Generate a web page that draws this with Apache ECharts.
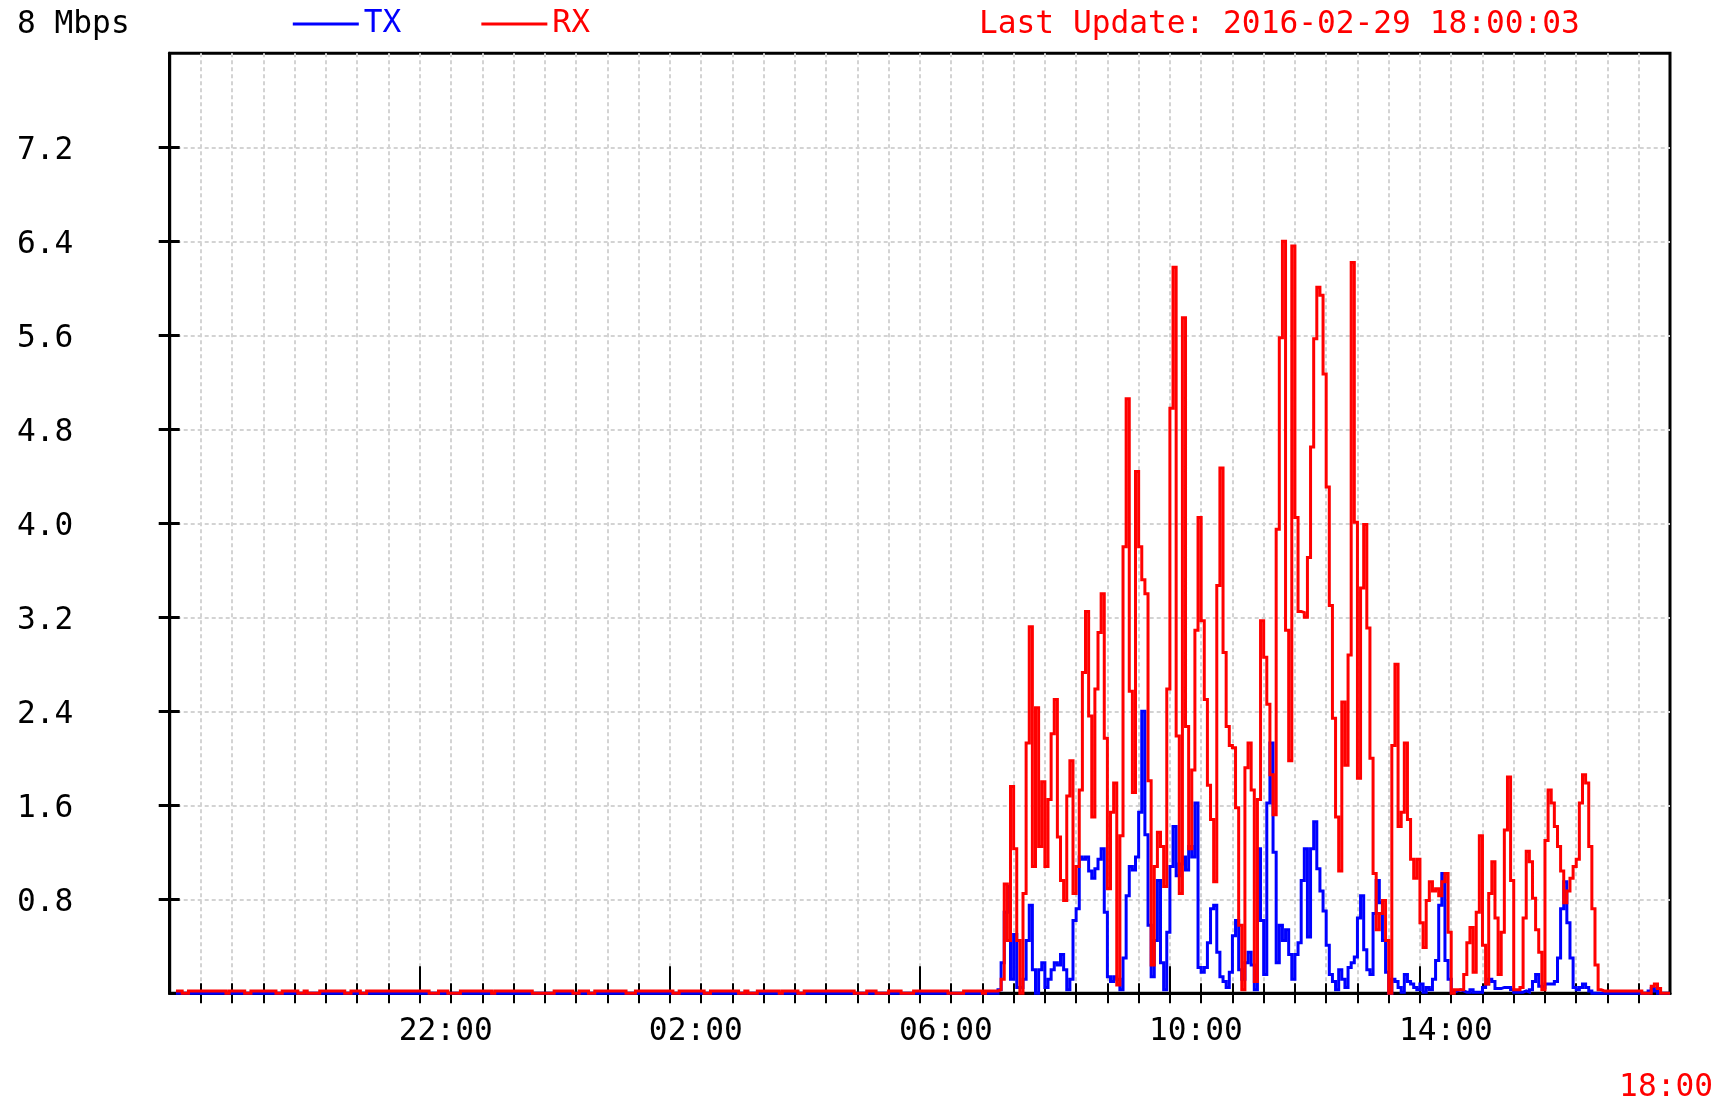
<!DOCTYPE html>
<html>
<head>
<meta charset="utf-8">
<title>Bandwidth</title>
<script src="https://cdn.jsdelivr.net/npm/echarts@6/dist/echarts.min.js"></script>
<style>
  html, body { margin: 0; padding: 0; background: #ffffff; }
  #chart { width: 1718px; height: 1102px; }
</style>
</head>
<body>
<div id="chart"></div>
<script>
// Samples are 3 minutes apart, starting at 18:00 and covering 24 hours (480 samples).
const SAMPLE_MINUTES = 3;
const SPAN_MINUTES = 1440;

// Hour labels under the time axis (minutes after 18:00)
const hourTickMinutes = [240, 480, 720, 960, 1200];
const hourLabels = ['22:00', '02:00', '06:00', '10:00', '14:00'];
const endLabel = '18:00';

// Rate axis (Mbps)
const rateMax = 8;
const rateStep = 0.8;
const rateTicks = [0.8, 1.6, 2.4, 3.2, 4.0, 4.8, 5.6, 6.4, 7.2];

const titleUnit = '8 Mbps';
const lastUpdate = 'Last Update: 2016-02-29 18:00:03';

// Transmit rate, Mbps, one row per hour (20 samples)
const tx = [
  null,null,0,0,0,0,0,0,0,0,0,0,0,0,0,0,0,0,0,0,
  0,0,0,0,0,0,0,0,0,0,0,0,0,0,0,0,0,0,0,0,
  0,0,0,0,0,0,0,0,0,0,0,0,0,0,0,0,0,0,0,0,
  0,0,0,0,0,0,0,0,0,0,0,0,0,0,0,0,0,0,0,0,
  0,0,0,0,0,0,0,0,0,0,0,0,0,0,0,0,0,0,0,0,
  0,0,0,0,0,0,0,0,0,0,0,0,0,0,0,0,0,0,0,0,
  0,0,0,0,0,0,0,0,0,0,0,0,0,0,0,0,0,0,0,0,
  0,0,0,0,0,0,0,0,0,0,0,0,0,0,0,0,0,0,0,0,
  0,0,0,0,0,0,0,0,0,0,0,0,0,0,0,0,0,0,0,0,
  0,0,0,0,0,0,0,0,0,0,0,0,0,0,0,0,0,0,0,0,
  0,0,0,0,0,0,0,0,0,0,0,0,0,0,0,0,0,0,0,0,
  0,0,0,0,0,0,0,0,0,0,0,0,0,0,0,0,0,0,0,0,
  0,0,0,0,0,0,0,0,0,0,0,0,0,0,0,0,0,0,0,0,
  0,0,0,0,0,0.03,0.26,0.69,0.91,0.12,0.50,0.05,0.05,0.12,0.45,0.75,0.20,0.00,0.20,0.26,
  0.05,0.12,0.20,0.26,0.24,0.33,0.20,0.03,0.12,0.62,0.72,1.16,1.14,1.16,1.04,0.98,1.06,1.14,1.23,0.69,
  0.14,0.10,0.14,0.12,0.03,0.30,0.83,1.08,1.05,1.16,1.54,2.40,1.35,0.58,0.14,0.45,0.96,0.26,0.03,0.52,
  1.08,1.42,1.00,1.10,1.16,1.05,1.25,1.16,1.62,0.22,0.18,0.22,0.43,0.72,0.75,0.35,0.14,0.10,0.05,0.18,
  0.49,0.62,0.20,0.12,0.26,0.35,0.24,0.03,1.23,0.62,0.16,1.62,2.13,1.20,0.26,0.58,0.45,0.54,0.33,0.12,
  0.33,0.43,0.96,1.23,0.48,1.23,1.46,1.06,0.87,0.70,0.41,0.16,0.10,0.03,0.20,0.12,0.05,0.22,0.26,0.31,
  0.64,0.83,0.37,0.20,0.16,0.68,0.96,0.77,0.45,0.18,0.00,0.12,0.10,0.05,0.01,0.16,0.10,0.08,0.05,0.03,
  0.08,0.01,0.05,0.03,0.12,0.28,0.75,1.02,0.28,0.12,0.01,0.02,0.03,0.02,0.01,0.01,0.03,0.01,0.01,0.01,
  0.05,0.08,0.12,0.10,0.04,0.04,0.05,0.05,0.05,0.03,0.01,0.01,0.01,0.02,0.01,0.03,0.10,0.16,0.06,0.05,
  0.08,0.08,0.08,0.10,0.30,0.72,0.95,0.60,0.30,0.05,0.03,0.05,0.08,0.05,0.02,0,0,0,0,0,
  0,0,0,0,0,0,0,0,0,0,0,0,0,0.02,0.04,0.02,0,0,0,0
];

// Receive rate, Mbps, one row per hour (20 samples)
const rx = [
  null,null,0.02,0.02,0,0,0.02,0.02,0.02,0.02,0.02,0.02,0.02,0.02,0.02,0.02,0.02,0.02,0,0.02,
  0.02,0.02,0.02,0.02,0,0,0.02,0.02,0.02,0.02,0.02,0.02,0.02,0.02,0,0,0.02,0.02,0.02,0.02,
  0.02,0,0,0.02,0,0,0,0,0.02,0.02,0.02,0.02,0.02,0.02,0.02,0.02,0,0,0.02,0.02,
  0.02,0,0,0.02,0.02,0.02,0.02,0.02,0.02,0.02,0.02,0.02,0.02,0.02,0.02,0.02,0.02,0.02,0.02,0.02,
  0.02,0.02,0.02,0,0,0,0.02,0.02,0.02,0,0,0,0,0.02,0.02,0.02,0.02,0.02,0.02,0.02,
  0.02,0.02,0.02,0,0.02,0.02,0.02,0.02,0.02,0.02,0.02,0.02,0.02,0.02,0.02,0.02,0,0,0,0,
  0,0,0,0.02,0.02,0.02,0.02,0.02,0.02,0,0,0.02,0.02,0.02,0,0,0.02,0.02,0.02,0.02,
  0.02,0.02,0.02,0.02,0.02,0.02,0,0,0,0.02,0.02,0.02,0.02,0.02,0.02,0.02,0.02,0.02,0.02,0.02,
  0.02,0,0,0.02,0.02,0.02,0.02,0.02,0.02,0.02,0.02,0,0,0.02,0.02,0.02,0.02,0.02,0.02,0.02,
  0.02,0.02,0,0,0.02,0,0,0,0.02,0.02,0.02,0.02,0.02,0.02,0.02,0,0.02,0.02,0.02,0.02,
  0.02,0,0,0.02,0.02,0.02,0.02,0.02,0.02,0.02,0.02,0.02,0.02,0.02,0.02,0.02,0.02,0.02,0.02,0,
  0,0,0,0.02,0.02,0.02,0,0,0,0,0.02,0.02,0.02,0.02,0,0,0,0,0.02,0.02,
  0.02,0.02,0.02,0.02,0.02,0.02,0.02,0.02,0.02,0,0,0,0,0,0.02,0.02,0.02,0.02,0.02,0.02,
  0,0.02,0.02,0.02,0.02,0.03,0.12,0.93,0.45,1.76,1.23,0.45,0,0.85,2.13,3.12,1.08,2.43,1.25,1.80,
  1.08,1.65,2.21,2.50,1.33,0.96,0.79,1.68,1.98,0.85,1.08,1.73,2.73,3.25,2.36,1.50,2.59,3.07,3.40,2.17,
  0.89,1.54,1.79,0.07,1.34,3.80,5.06,2.57,1.71,4.44,3.80,3.52,3.40,1.81,0.24,1.08,1.37,1.25,0.91,2.59,
  4.98,6.18,2.19,0.85,5.75,2.27,1.23,1.90,3.09,4.05,3.17,2.50,1.77,1.48,0.95,3.47,4.47,2.90,2.27,2.11,
  2.09,1.58,0.58,0.03,1.92,2.13,1.73,0.10,1.65,3.17,2.86,2.46,1.86,1.52,3.95,5.58,6.40,3.09,1.98,6.36,
  4.05,3.25,3.24,3.20,3.71,4.65,5.57,6.01,5.94,5.27,4.31,3.30,2.34,1.50,1.04,2.48,1.94,2.88,6.22,4.01,
  1.83,3.45,3.99,3.11,2.00,1.02,0.54,0.68,0.79,0.45,0.00,2.11,2.80,1.42,1.54,2.13,1.48,1.14,0.98,1.14,
  0.60,0.39,0.79,0.95,0.87,0.89,0.83,0.95,1.02,0.52,0.00,0.03,0.03,0.03,0.16,0.43,0.56,0.18,0.69,1.34,
  0.41,0.08,0.85,1.12,0.64,0.16,0.52,1.39,1.84,0.96,0.03,0.03,0.05,0.64,1.21,1.12,0.81,0.54,0.35,0.03,
  1.30,1.73,1.62,1.42,1.25,1.04,0.77,0.87,0.98,1.08,1.14,1.62,1.86,1.79,1.25,0.72,0.24,0.03,0.02,0.02,
  0.02,0.02,0.02,0.02,0.02,0.02,0.02,0.02,0.02,0.02,0.02,0,0,0,0.06,0.08,0.04,0,0,0
];

const FONT_FAMILY = '"DejaVu Sans Mono", "Liberation Mono", monospace';
const FONT_SIZE = 31.2;
const GRID_COLOR = '#d3d3d3';
const TX_COLOR = '#0000ff';
const RX_COLOR = '#ff0000';

// Step data: each sample holds its value until the next sample starts.
function toStepData(values) {
  const out = values.map((v, i) => [i * SAMPLE_MINUTES, v]);
  out.push([SPAN_MINUTES, values[values.length - 1]]);
  return out;
}

const halfHourTicks = [];
for (let m = 30; m < SPAN_MINUTES; m += 30) halfHourTicks.push(m);

function hourLabel(value) {
  const idx = hourTickMinutes.indexOf(Math.round(value));
  return idx >= 0 ? '{t|' + hourLabels[idx] + '}' : '';
}

const chart = echarts.init(document.getElementById('chart'), null, { renderer: 'canvas' });

const GRID = { left: 169.7, top: 53.3, width: 1500.3, height: 940 };

const hiddenLine = { show: false };
const noLabel = { show: false };

chart.setOption({
  animation: false,
  backgroundColor: '#ffffff',
  textStyle: { fontFamily: FONT_FAMILY },
  grid: {
    left: GRID.left, top: GRID.top, width: GRID.width, height: GRID.height,
    show: true, borderColor: '#000000', borderWidth: 3, backgroundColor: 'transparent'
  },
  legend: {
    left: 292.8, top: 8.5, padding: 0,
    itemWidth: 66, itemHeight: 3, itemGap: 80,
    icon: 'rect', selectedMode: false,
    textStyle: { fontFamily: FONT_FAMILY, fontSize: FONT_SIZE },
    data: [
      { name: 'TX', textStyle: { color: TX_COLOR } },
      { name: 'RX', textStyle: { color: RX_COLOR } }
    ]
  },
  xAxis: [
    {
      type: 'value', min: 0, max: SPAN_MINUTES, interval: 30, position: 'bottom',
      axisLine: { show: true, onZero: false, lineStyle: { color: '#000000', width: 3 } },
      axisTick: { show: true, inside: false, length: 10, customValues: halfHourTicks,
                  lineStyle: { color: '#000000', width: 2 } },
      axisLabel: {
        show: true, customValues: hourTickMinutes, formatter: hourLabel,
        align: 'center', verticalAlign: 'middle', margin: 39,
        rich: { t: { fontFamily: FONT_FAMILY, fontSize: FONT_SIZE, color: '#000000',
                     padding: [0, 0, 0, 52] } }
      },
      splitLine: { show: true, lineStyle: { color: GRID_COLOR, width: 2, type: [4, 3] } }
    },
    {
      type: 'value', min: 0, max: SPAN_MINUTES, position: 'bottom',
      axisLine: hiddenLine,
      axisTick: { show: true, inside: true, length: 10, customValues: halfHourTicks,
                  lineStyle: { color: '#000000', width: 2 } },
      axisLabel: noLabel, splitLine: { show: false }
    },
    {
      type: 'value', min: 0, max: SPAN_MINUTES, position: 'bottom',
      axisLine: hiddenLine,
      axisTick: { show: true, inside: true, length: 27, customValues: hourTickMinutes,
                  lineStyle: { color: '#000000', width: 2 } },
      axisLabel: noLabel, splitLine: { show: false }
    }
  ],
  yAxis: [
    {
      type: 'value', min: 0, max: rateMax, interval: rateStep, position: 'left',
      axisLine: { show: true, onZero: false, lineStyle: { color: '#000000', width: 3 } },
      axisTick: { show: true, inside: false, length: 11, customValues: rateTicks,
                  lineStyle: { color: '#000000', width: 3 } },
      axisLabel: {
        show: true, customValues: rateTicks, formatter: v => '{r|' + v.toFixed(1) + '}',
        align: 'left', verticalAlign: 'middle', margin: 152.7,
        rich: { r: { fontFamily: FONT_FAMILY, fontSize: FONT_SIZE, color: '#000000',
                     padding: [7, 0, 0, 0] } }
      },
      splitLine: { show: true, lineStyle: { color: GRID_COLOR, width: 2, type: [4, 3] } }
    },
    {
      type: 'value', min: 0, max: rateMax, position: 'left',
      axisLine: hiddenLine,
      axisTick: { show: true, inside: true, length: 10, customValues: rateTicks,
                  lineStyle: { color: '#000000', width: 3 } },
      axisLabel: noLabel, splitLine: { show: false }
    }
  ],
  graphic: [
    { type: 'text', x: 17, y: 25, silent: true,
      style: { text: titleUnit, fill: '#000000', font: FONT_SIZE + 'px ' + FONT_FAMILY,
               align: 'left', verticalAlign: 'middle' } },
    { type: 'text', x: 979, y: 25, silent: true,
      style: { text: lastUpdate, fill: RX_COLOR, font: FONT_SIZE + 'px ' + FONT_FAMILY,
               align: 'left', verticalAlign: 'middle' } },
    { type: 'text', x: 1713, y: 1088, silent: true,
      style: { text: endLabel, fill: RX_COLOR, font: FONT_SIZE + 'px ' + FONT_FAMILY,
               align: 'right', verticalAlign: 'middle' } }
  ],
  series: [
    {
      name: 'TX', type: 'line', step: 'end', data: toStepData(tx),
      xAxisIndex: 0, yAxisIndex: 0, symbol: 'none', showSymbol: false,
      clip: false, z: 3, silent: true,
      color: TX_COLOR,
      lineStyle: { color: TX_COLOR, width: 3, cap: 'butt', join: 'miter' }
    },
    {
      name: 'RX', type: 'line', step: 'end', data: toStepData(rx),
      xAxisIndex: 0, yAxisIndex: 0, symbol: 'none', showSymbol: false,
      clip: false, z: 4, silent: true,
      color: RX_COLOR,
      lineStyle: { color: RX_COLOR, width: 3, cap: 'butt', join: 'miter' }
    }
  ]
});
</script>
</body>
</html>
